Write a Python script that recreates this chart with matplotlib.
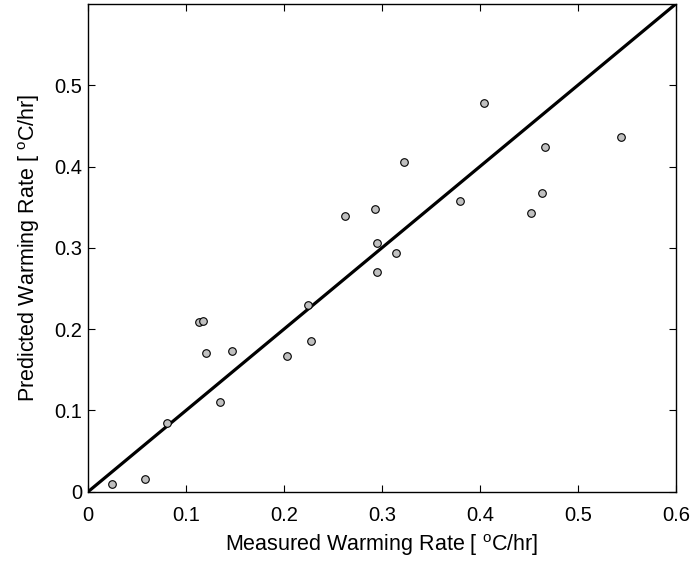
import matplotlib
matplotlib.use("Agg")
import matplotlib.pyplot as plt

plt.rcParams['font.family'] = ['Liberation Sans', 'DejaVu Sans']
plt.rcParams['mathtext.fontset'] = 'custom'
plt.rcParams['mathtext.rm'] = 'Liberation Sans'

measured = [0.024, 0.0585, 0.081, 0.1347, 0.1136, 0.1177, 0.1207, 0.1466,
            0.2034, 0.2242, 0.2276, 0.2946, 0.295, 0.2932, 0.2622, 0.314,
            0.3224, 0.3796, 0.404, 0.452, 0.463, 0.4666, 0.5436]
predicted = [0.010, 0.016, 0.0846, 0.111, 0.2088, 0.2104, 0.171, 0.173,
             0.1667, 0.2297, 0.186, 0.2705, 0.306, 0.3473, 0.339, 0.2934,
             0.405, 0.3575, 0.478, 0.343, 0.368, 0.424, 0.436]
line_x = [0.0, 0.6]
line_y = [0.0, 0.6]
xticks = [0, 0.1, 0.2, 0.3, 0.4, 0.5, 0.6]
xticklabels = ['0', '0.1', '0.2', '0.3', '0.4', '0.5', '0.6']
yticks = [0, 0.1, 0.2, 0.3, 0.4, 0.5]
yticklabels = ['0', '0.1', '0.2', '0.3', '0.4', '0.5']

fig = plt.figure(figsize=(6.91, 5.62), dpi=100)
ax = fig.add_axes([0.1274, 0.125, 0.978 - 0.1274, 0.993 - 0.125])
ax.plot(line_x, line_y, color='black', linewidth=2.3, zorder=2)
ax.scatter(measured, predicted, s=30, facecolor='#c0c0c0', edgecolor='black',
           linewidth=0.8, zorder=3)
ax.set_xlim(0, 0.6)
ax.set_ylim(0, 0.6)
ax.set_xticks(xticks)
ax.set_xticklabels(xticklabels)
ax.set_yticks(yticks)
ax.set_yticklabels(yticklabels)
ax.tick_params(direction='in', top=True, right=True, length=5, width=0.8,
               labelsize=14.5, pad=4)
ax.tick_params(axis='x', pad=10)
for s in ax.spines.values():
    s.set_linewidth(1.0)
ax.set_xlabel('Measured Warming Rate [ $^{\\mathrm{o}}$C/hr]', fontsize=15.5, labelpad=5.5)
ax.set_ylabel('Predicted Warming Rate [ $^{\\mathrm{o}}$C/hr]', fontsize=15.5, labelpad=9)
fig.savefig('out.png', dpi=100)
